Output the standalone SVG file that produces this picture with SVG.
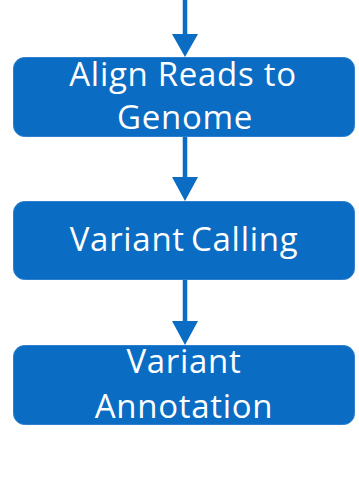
<svg xmlns="http://www.w3.org/2000/svg" width="359" height="490" viewBox="0 0 359 490">
  <style>
    .box { fill: #0A6CC2; stroke: #2F80CC; stroke-width: 1; }
    .lbl { fill: #FFFFFF; font-family: "Open Sans", Lato, "Liberation Sans", sans-serif; font-size: 33px; letter-spacing: 0.7px; text-anchor: middle; }
    .wire { stroke: #0A6CC2; stroke-width: 4.5; fill: none; }
    .head { fill: #0A6CC2; }
  </style>
  <rect width="359" height="490" fill="#FFFFFF"/>
  <g id="connectors">
    <line class="wire" x1="185" y1="0" x2="185" y2="36"/>
    <polygon class="head" points="172,34 198,34 185,57"/>
    <line class="wire" x1="185" y1="136" x2="185" y2="179"/>
    <polygon class="head" points="172,177 198,177 185,201"/>
    <line class="wire" x1="185" y1="279" x2="185" y2="323"/>
    <polygon class="head" points="172,321 198,321 185,345"/>
  </g>
  <g id="align">
    <rect class="box" x="13.5" y="57.5" width="341" height="79" rx="11"/>
    <text class="lbl" x="183" y="86">Align Reads to</text>
    <text class="lbl" x="185" y="129">Genome</text>
  </g>
  <g id="calling">
    <rect class="box" x="13.5" y="201.5" width="341" height="78" rx="11"/>
    <text class="lbl" x="184" y="251" word-spacing="-3">Variant Calling</text>
  </g>
  <g id="annotation">
    <rect class="box" x="13.5" y="345.5" width="341" height="79" rx="11"/>
    <text class="lbl" x="184" y="373">Variant</text>
    <text class="lbl" x="184" y="418">Annotation</text>
  </g>
</svg>
